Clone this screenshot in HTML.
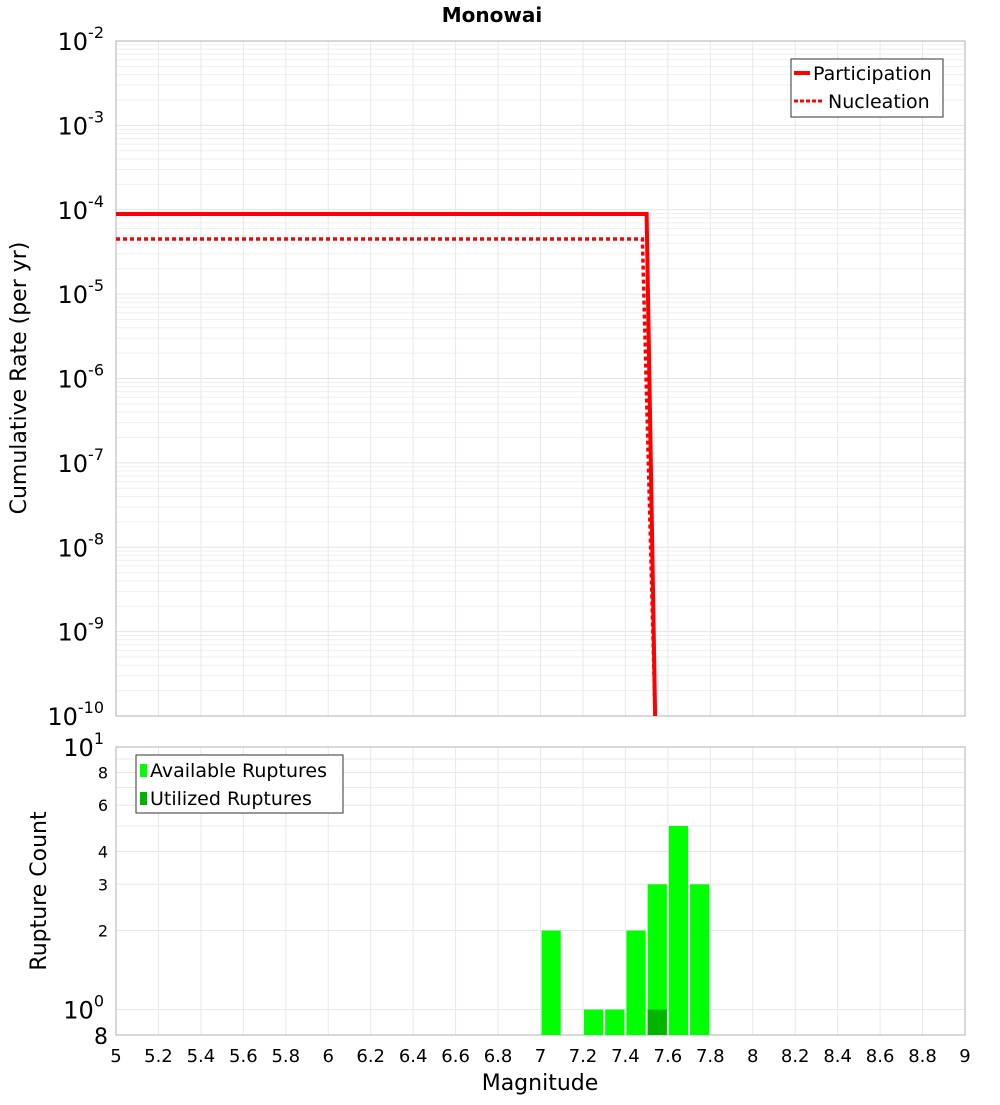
<!DOCTYPE html>
<html><head><meta charset="utf-8"><style>
body{margin:0;background:#fff;}
svg text{font-family:"DejaVu Sans","Liberation Sans",sans-serif;}
</style></head><body>
<svg id="c" width="1000" height="1100" xmlns="http://www.w3.org/2000/svg">
<text x="492" y="22" text-anchor="middle" font-size="20" font-weight="bold">Monowai</text>
<g id="topg"></g>
<g id="botg"></g>
<text transform="translate(26,378) rotate(-90)" text-anchor="middle" font-size="22">Cumulative Rate (per yr)</text>
<text transform="translate(46,891) rotate(-90)" text-anchor="middle" font-size="22">Rupture Count</text>
<text x="540" y="1090" text-anchor="middle" font-size="22">Magnitude</text>
</svg>
<script>
const partMags=[5.0,7.5,7.54];
const partRates=[8.9e-5,8.9e-5,1e-10];
const nuclMags=[5.0,7.48,7.54];
const nuclRates=[4.5e-5,4.5e-5,1e-10];
const binMags=[7.0,7.2,7.3,7.4,7.5,7.6,7.7];
const availCounts=[2,1,1,2,3,5,3];
const utilCounts=[0,0,0,0,1,0,0];
const xTicks=["5","5.2","5.4","5.6","5.8","6","6.2","6.4","6.6","6.8","7","7.2","7.4","7.6","7.8","8","8.2","8.4","8.6","8.8","9"];
const topExps=[-2,-3,-4,-5,-6,-7,-8,-9,-10];
const botTicks=[8,6,4,3,2];

const NS="http://www.w3.org/2000/svg";
const L=116,R=965,T1=41,B1=716,T2=747,B2=1035;
const xs=m=>L+(m-5)/4*(R-L);
const y1=v=>T1+(-2-Math.log10(v))/8*(B1-T1);
const y2=v=>B2-(Math.log10(v)-Math.log10(0.8))/(1-Math.log10(0.8))*(B2-T2);
function mk(p,t,a,n){const e=document.createElementNS(NS,t);for(const k in a)e.setAttribute(k,a[k]);


p.appendChild(e);return e;}
const svgEl=document.getElementById('c'),topG=document.getElementById('topg'),botG=document.getElementById('botg');
for(let d=-10;d<-2;d++)for(let k=1;k<10;k++){const y=y1(k*Math.pow(10,d));mk(topG,'line',{x1:L,x2:R,y1:y,y2:y,stroke:k==1?'#e4e4e4':'#efefef','stroke-width':1},'grid-line-y');}
xTicks.forEach(t=>{const x=xs(+t);mk(topG,'line',{x1:x,x2:x,y1:T1,y2:B1,stroke:'#e8e8e8'},'grid-line-x');mk(botG,'line',{x1:x,x2:x,y1:T2,y2:B2,stroke:'#e8e8e8'},'grid-line-x');});
[1,2,3,4,5,6,7,8,9,10].forEach(v=>{const y=y2(v);mk(botG,'line',{x1:L,x2:R,y1:y,y2:y,stroke:'#e8e8e8'},'grid-line-y');});
mk(topG,'rect',{x:L,y:T1,width:R-L,height:B1-T1,fill:'none',stroke:'#b0b0b0'},'plot-frame');
mk(botG,'rect',{x:L,y:T2,width:R-L,height:B2-T2,fill:'none',stroke:'#b0b0b0'},'plot-frame');
topExps.forEach(e=>{const y=y1(Math.pow(10,e));const t=mk(topG,'text',{x:104,y:y+9,'text-anchor':'end','font-size':24},'y-tick-label');
t.appendChild(document.createTextNode('10'));const s=document.createElementNS(NS,'tspan');s.setAttribute('dy','-12');s.setAttribute('font-size','16');s.textContent=e;t.appendChild(s);});
const pts=(ms,rs)=>ms.map((m,i)=>xs(m)+','+y1(rs[i])).join(' ');
mk(topG,'polyline',{points:pts(nuclMags,nuclRates),fill:'none',stroke:'#ff0000','stroke-width':3.5,'stroke-dasharray':'4,3'},'nucleation-line');
mk(topG,'polyline',{points:pts(partMags,partRates),fill:'none',stroke:'#ff0000','stroke-width':4},'participation-line');
const lg=mk(topG,'g',{},'legend-rate');
mk(lg,'rect',{x:791,y:59,width:152,height:58,fill:'#fff',stroke:'#333'},'legend-box');
mk(lg,'line',{x1:794,x2:810,y1:73,y2:73,stroke:'#f00','stroke-width':4},'legend-participation-swatch');
mk(lg,'text',{x:813,y:80,'font-size':19},'legend-participation-label').textContent='Participation';
mk(lg,'line',{x1:794,x2:822,y1:101,y2:101,stroke:'#f00','stroke-width':3,'stroke-dasharray':'4,2'},'legend-nucleation-swatch');
mk(lg,'text',{x:828,y:108,'font-size':19},'legend-nucleation-label').textContent='Nucleation';
const bw=(R-L)/40;
binMags.forEach((m,i)=>{const x=xs(m)+1;mk(botG,'rect',{x:x,y:y2(availCounts[i]),width:bw-2,height:B2-y2(availCounts[i]),fill:'#00ff00'},'bar-available');
if(utilCounts[i]>0)mk(botG,'rect',{x:x,y:y2(utilCounts[i]),width:bw-2,height:B2-y2(utilCounts[i]),fill:'#00b400'},'bar-utilized');});
[[10,'1'],[1,'0']].forEach(([v,e])=>{const t=mk(botG,'text',{x:104,y:y2(v)+9,'text-anchor':'end','font-size':24},'y-tick-label');
t.appendChild(document.createTextNode('10'));const s=document.createElementNS(NS,'tspan');s.setAttribute('dy','-12');s.setAttribute('font-size','16');s.textContent=e;t.appendChild(s);});
botTicks.forEach(v=>{mk(botG,'text',{x:108,y:y2(v)+6,'text-anchor':'end','font-size':16},'y-tick-label').textContent=v;});
mk(botG,'text',{x:108,y:B2+9,'text-anchor':'end','font-size':22},'y-tick-label').textContent='8';
xTicks.forEach(t=>{mk(svgEl,'text',{x:xs(+t),y:1062,'text-anchor':'middle','font-size':18},'x-tick-label').textContent=t;});
const lb=mk(botG,'g',{},'legend-count');
mk(lb,'rect',{x:136,y:755,width:207,height:58,fill:'#fff',stroke:'#333'},'legend-box');
mk(lb,'rect',{x:140,y:764,width:7,height:13,fill:'#00ff00'},'legend-available-swatch');
mk(lb,'text',{x:150,y:777,'font-size':19},'legend-available-label').textContent='Available Ruptures';
mk(lb,'rect',{x:140,y:792,width:7,height:13,fill:'#00b400'},'legend-utilized-swatch');
mk(lb,'text',{x:150,y:805,'font-size':19},'legend-utilized-label').textContent='Utilized Ruptures';
</script>
</body></html>
